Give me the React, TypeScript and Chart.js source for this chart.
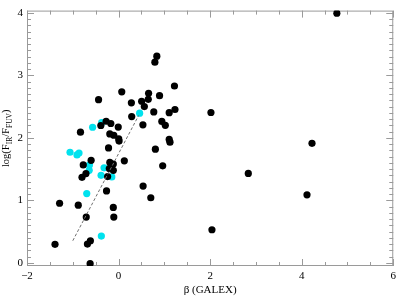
import React, { useEffect, useRef } from 'react';
import { Chart, registerables } from 'chart.js';

Chart.register(...registerables);

// Black points (beta GALEX, log(FIR/FFUV))
const blackX = [
  0.836, 0.793, 1.221, -0.437, 0.070, 0.656, 0.895, 0.649, 0.280, 0.504,
  0.563, 1.232, 0.769, 1.106, 0.287, -0.272, -0.387, -0.169, -0.007, 0.532,
  0.945, 1.021, -0.832, -0.191, -0.104, 0.004, 0.011, 1.106, 1.123, -0.219,
  0.804, -0.599, -0.191, -0.115, 0.126, -0.771, 0.964, -0.712, -0.202, -0.115,
  -0.799, -0.239, 0.536, -0.263, 0.704, -1.288, -0.880, -0.115, -0.706, -0.104,
  -0.615, -0.680, -1.388, -0.621, 4.768, 2.018, 4.225, 2.834, 4.116, 2.040,
];
const blackY = [
  3.306, 3.210, 2.829, 2.611, 2.736, 2.712, 2.674, 2.616, 2.560, 2.585,
  2.500, 2.453, 2.414, 2.402, 2.340, 2.265, 2.197, 2.229, 2.172, 2.208,
  2.262, 2.200, 2.091, 2.063, 2.041, 1.982, 1.948, 1.975, 1.931, 1.839,
  1.819, 1.641, 1.606, 1.581, 1.633, 1.566, 1.552, 1.428, 1.508, 1.481,
  1.369, 1.380, 1.229, 1.151, 1.042, 0.954, 0.923, 0.887, 0.732, 0.732,
  0.354, 0.301, 0.297, -0.011, 3.994, 2.405, 1.912, 1.431, 1.089, 0.530,
];

// Cyan points
const cyanX = [
  0.460, -0.369, -0.567, -1.060, -0.908, -0.864, -0.636, -0.317, -0.641, -0.382,
  -0.148, -0.695, -0.376,
];
const cyanY = [
  2.394, 2.242, 2.169, 1.769, 1.726, 1.757, 1.566, 1.521, 1.480, 1.400,
  1.375, 1.108, 0.429,
];

// Dashed fit line
const fitX = [-1.0, 0.44];
const fitY = [0.354, 2.36];

const xTitle = 'β (GALEX)';
const yTitleParts = [
  { t: 'log(F', sub: false },
  { t: 'IR', sub: true },
  { t: '/F', sub: false },
  { t: 'FUV', sub: true },
  { t: ')', sub: false },
];

const FONT = "'Liberation Serif', 'DejaVu Serif', serif";

const zip = (xs: number[], ys: number[]) => xs.map((x, i) => ({ x, y: ys[i] }));

const frameTicksPlugin = {
  id: 'frameTicks',
  beforeDatasetsDraw(chart: any) {
    const { ctx, chartArea: a, scales } = chart;
    const xs = scales.x;
    const ys = scales.y;
    ctx.save();
    ctx.strokeStyle = '#9a9a9a';
    ctx.lineWidth = 1;
    ctx.strokeRect(a.left + 0.5, a.top + 0.5, a.right - a.left - 1, a.bottom - a.top - 1);
    ctx.beginPath();
    for (let i = -4; i <= 12; i++) {
      const v = i / 2;
      const px = Math.round(xs.getPixelForValue(v)) + 0.5;
      const len = i % 4 === 0 ? 7 : 4;
      ctx.moveTo(px, a.bottom);
      ctx.lineTo(px, a.bottom - len);
      ctx.moveTo(px, a.top);
      ctx.lineTo(px, a.top + len);
    }
    for (let i = 0; i <= 40; i++) {
      const v = i / 10;
      const py = Math.round(ys.getPixelForValue(v)) + 0.5;
      const len = i % 10 === 0 ? 7 : 4;
      ctx.moveTo(a.left, py);
      ctx.lineTo(a.left + len, py);
      ctx.moveTo(a.right, py);
      ctx.lineTo(a.right - len, py);
    }
    ctx.stroke();
    ctx.restore();
  },
  afterDraw(chart: any) {
    const { ctx, chartArea: a } = chart;
    ctx.save();
    ctx.fillStyle = '#000';
    ctx.textBaseline = 'alphabetic';
    ctx.textAlign = 'left';
    const mainFont = `10.5px ${FONT}`;
    const subFont = `7.5px ${FONT}`;
    let total = 0;
    for (const p of yTitleParts) {
      ctx.font = p.sub ? subFont : mainFont;
      total += ctx.measureText(p.t).width;
    }
    ctx.translate(9, (a.top + a.bottom) / 2);
    ctx.rotate(-Math.PI / 2);
    let x = -total / 2;
    for (const p of yTitleParts) {
      ctx.font = p.sub ? subFont : mainFont;
      ctx.fillText(p.t, x, p.sub ? 2.5 : 0);
      x += ctx.measureText(p.t).width;
    }
    ctx.restore();
  },
};

export default function App() {
  const ref = useRef<HTMLCanvasElement | null>(null);

  useEffect(() => {
    if (!ref.current) return;
    const chart = new Chart(ref.current, {
      type: 'scatter',
      data: {
        datasets: [
          {
            label: 'fit',
            data: zip(fitX, fitY),
            showLine: true,
            borderColor: '#707070',
            borderWidth: 1,
            borderDash: [3, 2],
            pointRadius: 0,
            fill: false,
          },
          {
            label: 'black',
            data: zip(blackX, blackY),
            backgroundColor: '#000000',
            borderWidth: 0,
            pointRadius: 3.6,
          },
          {
            label: 'cyan',
            data: zip(cyanX, cyanY),
            backgroundColor: '#00e2ee',
            borderWidth: 0,
            pointRadius: 3.6,
          },
        ],
      },
      options: {
        animation: false,
        responsive: false,
        layout: { padding: { top: 3, right: 5, left: 0, bottom: 0 } },
        plugins: {
          legend: { display: false },
          tooltip: { enabled: false },
        },
        scales: {
          x: {
            type: 'linear',
            min: -2,
            max: 6,
            grid: { display: false, drawTicks: false },
            border: { display: false },
            ticks: {
              stepSize: 2,
              padding: 4,
              color: '#000',
              font: { family: FONT, size: 11 },
              callback: (v: any) => String(v).replace('-', '−'),
            },
            title: {
              display: true,
              text: xTitle,
              color: '#000',
              font: { family: FONT, size: 11 },
              padding: { top: 0, bottom: 0 },
            },
            afterFit: (s: any) => {
              s.height = 31;
            },
          },
          y: {
            type: 'linear',
            min: -0.05,
            max: 4.035,
            grid: { display: false, drawTicks: false },
            border: { display: false },
            ticks: {
              stepSize: 1,
              includeBounds: false,
              padding: 4,
              color: '#000',
              font: { family: FONT, size: 11 },
              callback: (v: any) => (Number.isInteger(v) ? String(v) : ''),
            },
            afterFit: (s: any) => {
              s.width = 27;
            },
          },
        },
      },
      plugins: [frameTicksPlugin],
    });
    return () => chart.destroy();
  }, []);

  return (
    <div style={{ position: 'absolute', left: 0, top: 0, width: 400, height: 297 }}>
      <canvas ref={ref} width={400} height={297} style={{ display: 'block' }} />
    </div>
  );
}
